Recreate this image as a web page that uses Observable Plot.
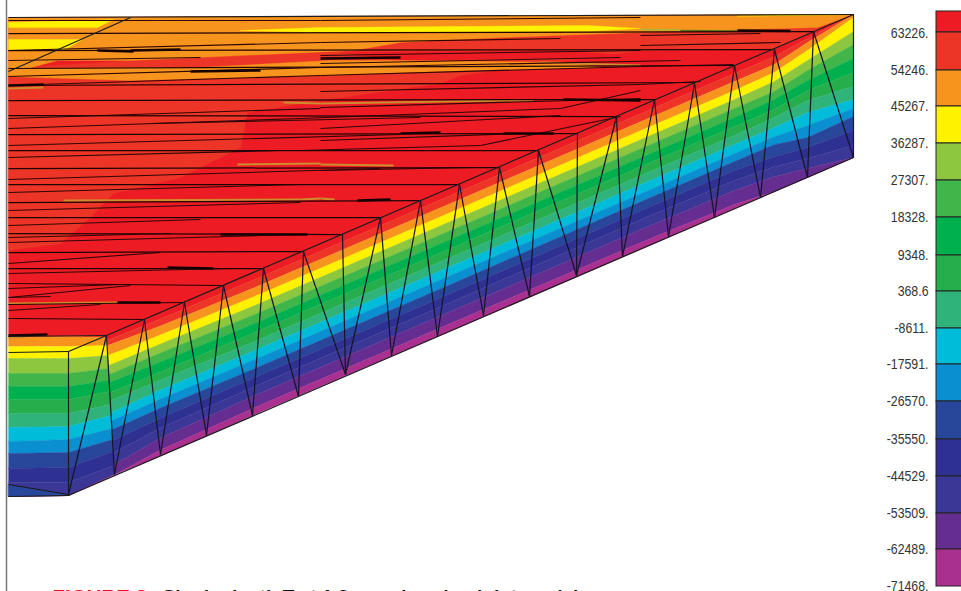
<!DOCTYPE html>
<html>
<head>
<meta charset="utf-8">
<script src="https://cdn.jsdelivr.net/npm/d3@7"></script>
<script src="https://cdn.jsdelivr.net/npm/@observablehq/plot@0.6"></script>
<style>html,body{margin:0;padding:0;background:#fff;overflow:hidden}svg{display:block}</style>
</head>
<body>
<div id="chart"></div>
<script>
// legend
const legendLabels = ["63226.","54246.","45267.","36287.","27307.","18328.","9348.","368.6","-8611.","-17591.","-26570.","-35550.","-44529.","-53509.","-62489.","-71468."];
const legendLabelY = [33,70,106,143,180,217,255,291,328,364,401,439,476,513,549,586];
const legendEdges = [11,32,70,106,143,180,217,255,291,328,364,401,439,476,513,549,586];
const bandColors = ["#ed1c24","#ec3526","#f7941d","#fff200","#8dc63f","#3fb54a","#00b04f","#25ae4b","#2fb37a","#00bcd9","#0a8fd0","#28479b","#2e3192","#3a3796","#662d91","#a9308f"];

// contour bands on the side faces: depth of each band edge below the top edge, by station
const stationX =    [8,68,106,106.5,160,260,450,650,734,773,807,853];
const stationLean = [0,0,0.0576,0.0576,0,0,0,0,0,0,0,0];
const stationTop =  [336,336,335,334,311.5,268.6,187,101,65,48.4,34,14];
const stationDepths = [
  [0,0,0,10,22,37,50,63,77,91,105,117,132,146,160,160,160],
  [0,0,0,10,22,37,50,63,77,90,103,116,131,146,159,159,159],
  [0,0,2,10,20,33,45,56,69,80,93,104,116,130,139,139,139],
  [0,6,11,21,31,40,48,58,66,78,86,95,106,118,130,140,140],
  [0,7,14,23,32,41,50,60,68,78,87,96,106,116,126,138,144],
  [0,8,16,25,34,43,52,61,70,79,88,97,106,115,124,136,143],
  [0,8,16,25,34,43,52,61,70,79,88,97,106,115,124,136,143.5],
  [0,8,16,25,34,43,52,61,70,79,88,96,105,114,124,137,143.5],
  [0,8,16,25,34,43,52,61,70,79,88,96,105,115,125,139,143],
  [0,8,16,24,33,43,51,61,69,79,88,96,108,118,128,143,143],
  [0,4,8,16,26,36,46,56,66,78,91,103,113,124,134,143,143],
  [0,0,0,3,17,30,44,58,72,85,94,102,116,131,143,143,143]
];

// top face
const faceRed = "#ed1c24", faceRed2 = "#ec3526", faceOrange = "#f7941d", faceYellow = "#fff200", faceBlue = "#28479b";
const topFaceX = [8,853,106,8];
const topFaceY = [17,14,335,336];
const red2X = [8,853,773,640,460,440,320,247,240,180,113,90,60,8];
const red2Y = [68,14,48,50,75,83,100,112,147,177,193,217,243,250];
const redPatchX = [340,560,640,400];
const redPatchY = [52,50,56,60];
const orangeAX = [8,853,817,640,500,400,353,130,57,27,8];
const orangeAY = [17,14,27,32,37,42,50,60,60,68,68];
const orangeBX = [8,200,330,400,563,603,470,320,130,8];
const orangeBY = [68,67,60,60,62,67,70,75,80,76];
const yellowAX = [8,113,97,8];
const yellowAY = [22,19,27,27];
const yellowBX = [8,82,63,8];
const yellowBY = [39,39,50,49];
const yellowCX = [240,320,587,640,587,320];
const yellowCY = [30,27,25,28,31,32];
const blueWedgeX = [8,68,8];
const blueWedgeY = [484,494.5,496];

// thin strips on the top face: x1, y1, x2, y2
const orangeStrips = [
  [8,88,43,87],[63,200,300,199],[237,164,320,163],[283,102,320,103],[320,103,510,100],
  [8,303,117,302],[8,337,24,337],[320,164,393,165],[320,198,334,199],[500,100,533,100],
  [540,62,640,65],[300,199,320,198]
];
const yellowStrips = [[737,15.5,853,14]];
const limeStrips = [[640,29,680,29.5]];
const greenStrips = [[680,30,737,30.5]];

// mesh lines running along the top face, ending at the front edge nodes: y at left, x end, y end
const nodeLines = [
  [33,813,31],[50,773,49],[68,734,65],[85,694,82],[100,655,99],[115,616,116],[134,577,133],
  [150,538,150],[168,499,167],[184,459,184],[202,420,200],[217,380,217],[233,342,234],
  [252,302,251],[268,263,268],[283,223,285],[304,184,302],[318,144,319]
];
// shorter mesh lines: x1, y1, x2, y2
const extraLines = [
  [8,50,320,42],[320,42,560,38],[8,76,320,67],[320,67,680,60],[8,85,320,75],[320,75,640,66],
  [320,91,640,84],[320,107,640,98],[8,118,320,108],[8,145,400,134],[8,157,280,150],
  [8,179,380,168],[8,192,300,184],[8,210,300,202],[8,237,170,233],[8,242,300,234],
  [8,263,160,252],[8,273,230,268],[8,297,130,285],[320,128,560,115],[320,140,520,133],
  [320,170,470,167],[640,66,733,64],[640,84,700,81],[320,55,640,50],[8,297,50,296],
  [320,20,640,17],[320,63,620,57],[8,20,320,20],[8,60,200,57],[8,128,300,118],
  [300,118,560,108],[560,108,640,90],[8,225,200,219],[8,288,120,284],[8,310,100,304],
  [300,150,480,145],[480,145,620,116],[150,123,420,117],[640,35,760,33],[640,45,780,42]
];
const heavyLines = [
  [737,30,790,30.5],[563,99,640,100],[503,133,553,133],[167,267,213,268],[220,234,307,234],
  [117,302,160,302],[357,200,390,199],[8,85,43,84],[97,50,133,51],[8,335,47,334],
  [320,58,400,57],[400,133,440,132],[130,50,180,49],[190,71,260,70]
];

// outline edges
const edgeLines = [
  [8,17,853,14],[8,71,130,17],[106,335,853,14],[8,336,106,335],[8,352,68,351],[68,351,106,335],
  [68,351,68,495],[8,484,68,494],[8,496,68,495],[68,495,853,157],[853,14,853,157]
];
// zigzag mesh on the side face: top node x,y to bottom node x,y
const zigzag = [
  [106,335,68,494],[106,335,114,474],[144,319,114,474],[144,319,160,454],[184,302,160,454],[184,302,206,435],
  [223,285,206,435],[223,285,252,415],[263,268,252,415],[263,268,298,396],[303,251,298,396],[303,251,345,374],
  [342,234,345,374],[380,217,345,374],[380,217,391,355],[420,200,391,355],[420,200,437,336],[459,184,437,336],
  [459,184,483,315],[499,167,483,315],[499,167,529,296],[538,150,529,296],[538,150,576,275],[577,133,576,275],
  [616,116,576,275],[616,116,622,256],[654,99,622,256],[654,99,668,236],[694,83,668,236],[694,83,714,217],
  [734,65,714,217],[734,65,760,197],[774,49,760,197],[774,49,807,177],[813,31,807,177],[813,31,853,157]
];

const captionRed = "FIGURE 3.";
const captionBlack = "Single-depth T at 1.3-mm-drop-lap-joint model";

// --- tables for the marks ---
const bandPoint = (i, k) => ({x: stationX[i] + stationLean[i] * stationDepths[i][k], y: stationTop[i] + stationDepths[i][k]});
const bandRows = bandColors.flatMap((color, band) => [
  ...stationX.map((_, i) => ({band, color, ...bandPoint(i, band)})),
  ...stationX.map((_, i) => ({band, color, ...bandPoint(stationX.length - 1 - i, band + 1)}))
]);
const swatches = bandColors.map((c, i) => ({color: c, y1: legendEdges[i], y2: legendEdges[i + 1]}));
const labels = legendLabels.map((t, i) => ({t, y: legendLabelY[i]}));
const poly = (xs, ys, fill) => Plot.line(xs.map((x, i) => ({x, y: ys[i]})), {x: "x", y: "y", fill, stroke: fill, strokeWidth: 0.4, curve: "linear-closed"});
const segRows = (list) => list.flatMap((s, k) => [{k, x: s[0], y: s[1]}, {k, x: s[2], y: s[3]}]);
const segs = (list, stroke, strokeWidth) => Plot.line(segRows(list), {x: "x", y: "y", z: "k", stroke, strokeWidth, strokeLinecap: "butt"});
const nodeSegs = nodeLines.map(n => [8, n[0], n[1], n[2]]);
const sans = "'Liberation Sans', Arial, sans-serif";

const chart = Plot.plot({
  width: 961, height: 591,
  margin: 0,
  style: {background: "#fff", overflow: "hidden"},
  x: {domain: [0, 961], range: [0, 961], axis: null},
  y: {domain: [0, 591], range: [0, 591], axis: null},
  marks: [
    Plot.ruleX([6], {y1: 0, y2: 591, stroke: "#777", strokeWidth: 1.5}),
    Plot.line(bandRows, {x: "x", y: "y", z: "band", fill: "color", stroke: "color", strokeWidth: 0.4, curve: "linear-closed"}),
    poly(blueWedgeX, blueWedgeY, faceBlue),
    poly(topFaceX, topFaceY, faceRed),
    poly(red2X, red2Y, faceRed2),
    poly(redPatchX, redPatchY, faceRed),
    poly(orangeAX, orangeAY, faceOrange),
    poly(orangeBX, orangeBY, faceOrange),
    poly(yellowAX, yellowAY, faceYellow),
    poly(yellowBX, yellowBY, faceYellow),
    poly(yellowCX, yellowCY, faceYellow),
    segs(orangeStrips, "#cf8c2c", 2),
    segs(yellowStrips, faceYellow, 1.2),
    segs(limeStrips, "#a6b83a", 1.4),
    segs(greenStrips, "#4d7a20", 1.4),
    segs(extraLines, "#2e0606", 1.1),
    segs(nodeSegs, "#200404", 1.25),
    segs(heavyLines, "#140000", 2.4),
    segs(edgeLines, "#1c1c1c", 1.2),
    segs(zigzag, "#141428", 1.2),
    Plot.rect(swatches, {x1: 936, x2: 965, y1: "y1", y2: "y2", fill: "color", stroke: "#222", strokeWidth: 1}),
    Plot.text(labels, {x: 928, y: "y", text: "t", textAnchor: "end", fontSize: 14.5, fontFamily: sans, fill: "#333", className: "legend-label"}),
    Plot.text([captionRed], {x: 52, y: 597, textAnchor: "start", lineAnchor: "middle", fontSize: 20.5, fontWeight: "bold", fontFamily: sans, fill: "#e3121b"}),
    Plot.text([captionBlack], {x: 162, y: 596, textAnchor: "start", lineAnchor: "middle", fontSize: 19, fontWeight: "bold", fontFamily: sans, fill: "#111"})
  ]
});
document.getElementById("chart").append(chart);
// the legend's type is a narrow face: squeeze the labels to the reference's width
d3.select(chart).selectAll(".legend-label text").each(function () {
  this.setAttribute("textLength", this.getComputedTextLength() * 0.85);
  this.setAttribute("lengthAdjust", "spacingAndGlyphs");
});
</script>
</body>
</html>
